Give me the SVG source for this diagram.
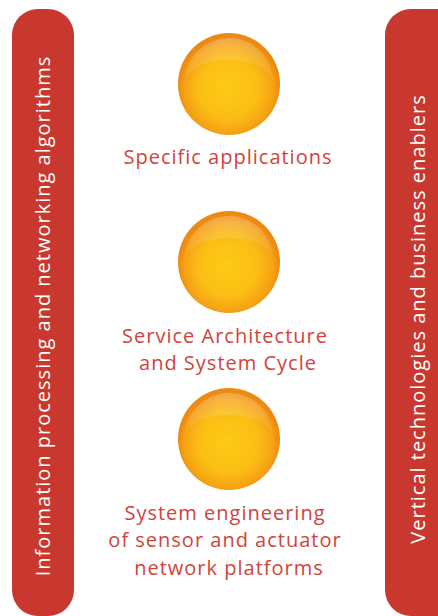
<svg xmlns="http://www.w3.org/2000/svg" width="438" height="616" viewBox="0 0 438 616">
<defs>
<style>
.bar{fill:#c9382e}
.vt{fill:#ffffff;font-family:"Open Sans","DejaVu Sans",sans-serif;font-size:20px;letter-spacing:1px;text-anchor:middle}
.lbl{fill:#d0433b;font-family:"Open Sans","DejaVu Sans",sans-serif;font-size:20px;letter-spacing:1px;text-anchor:middle}
</style>
<radialGradient id="ball" cx="0.5" cy="0.55" r="0.5" fx="0.48" fy="0.52">
<stop offset="0" stop-color="#fdcb14"/>
<stop offset="0.6" stop-color="#fbbd14"/>
<stop offset="0.88" stop-color="#f5a114"/>
<stop offset="1" stop-color="#ec8a12"/>
</radialGradient>
<linearGradient id="hl" x1="0" y1="0" x2="0" y2="1">
<stop offset="0" stop-color="#ffffff" stop-opacity="0.22"/>
<stop offset="1" stop-color="#ffffff" stop-opacity="0.03"/>
</linearGradient>
<g id="orb">
<circle r="51" fill="url(#ball)"/>
<path d="M-44,-4 C-42,-30 -22,-46 0,-46 C22,-46 42,-30 44,-4 C38,-18 20,-24 0,-24 C-20,-24 -38,-18 -44,-4 Z" fill="url(#hl)"/>
</g>
</defs>
<g id="left-bar">
<rect class="bar" x="12" y="9" width="62" height="607" rx="26"/>
<text class="vt" transform="translate(50,316) rotate(-90)">Information processing and networking algorithms</text>
</g>
<g id="right-bar">
<rect class="bar" x="385" y="9" width="80" height="607" rx="26"/>
<text class="vt" transform="translate(425,319) rotate(-90)">Vertical technologies and business enablers</text>
</g>
<g id="connectors"></g>
<g id="node-specific">
<use href="#orb" x="229" y="84"/>
<text class="lbl" x="228" y="164">Specific applications</text>
</g>
<g id="node-service">
<use href="#orb" x="229" y="262"/>
<text class="lbl" x="225" y="343">Service Architecture</text>
<text class="lbl" x="228" y="370">and System Cycle</text>
</g>
<g id="node-system">
<use href="#orb" x="229" y="439"/>
<text class="lbl" x="225" y="520">System engineering</text>
<text class="lbl" x="225" y="547">of sensor and actuator</text>
<text class="lbl" x="229" y="575">network platforms</text>
</g>
</svg>
